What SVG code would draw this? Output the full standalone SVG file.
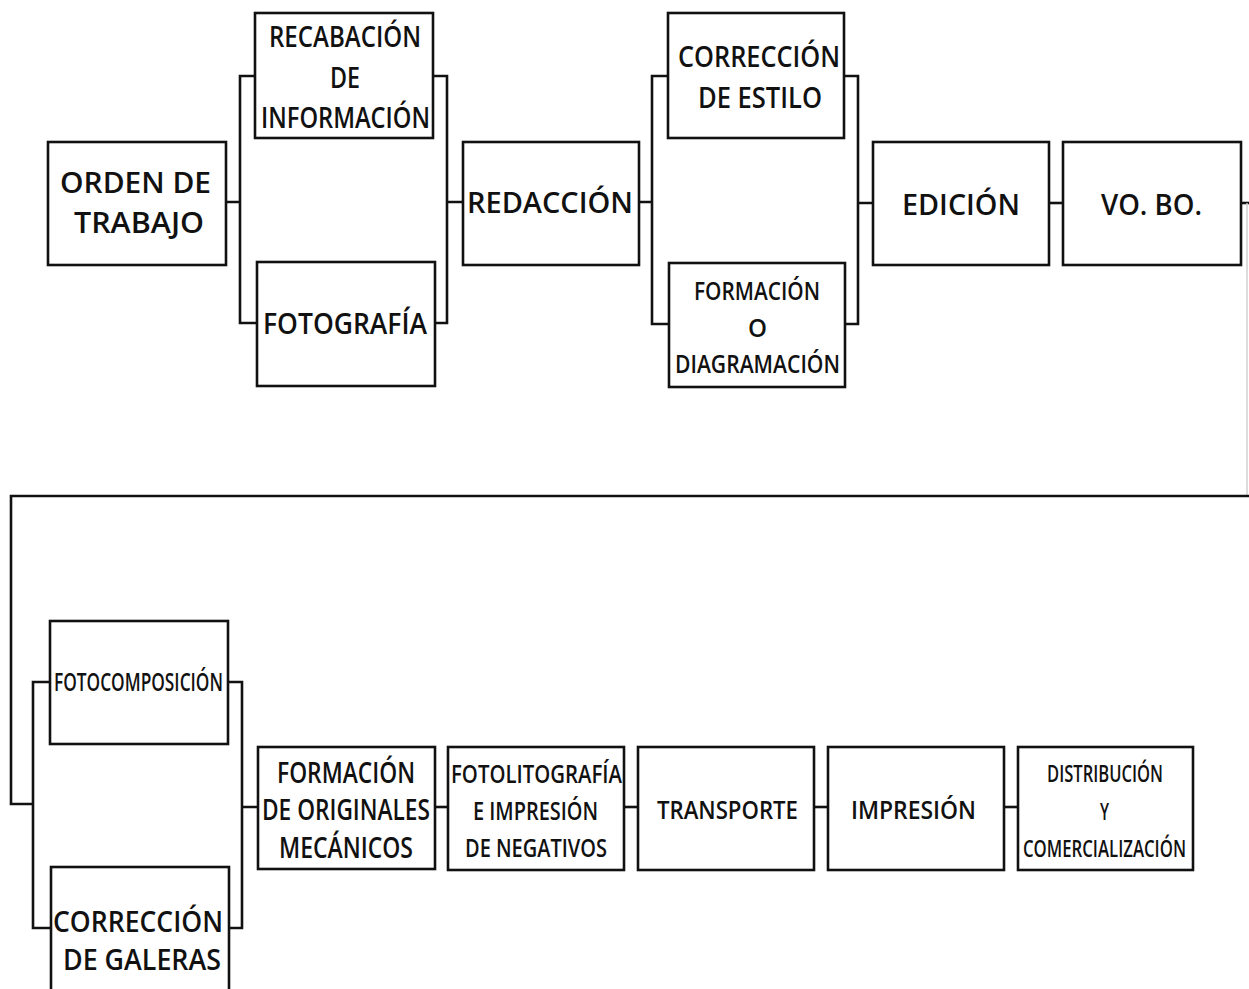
<svg xmlns="http://www.w3.org/2000/svg" width="1249" height="989" viewBox="0 0 1249 989">
<style>
  .box { fill: #ffffff; stroke: #111111; stroke-width: 2.6; }
  .conn { fill: none; stroke: #111111; stroke-width: 2.6; }
  .faint { fill: none; stroke: #d0d0d0; stroke-width: 1.5; }
  text { font-family: "Open Sans", "Noto Sans", "Liberation Sans", sans-serif; fill: #111111; font-size: 28px; font-weight: 600; }
  .s { font-size: 26px; }
  .xs { font-size: 24px; }
</style>
<rect width="1249" height="989" fill="#ffffff"/>
<g id="connectors">
  <path class="conn" d="M226 202 H240 M255 76 H240 V323 H257"/>
  <path class="conn" d="M433 76 H447 V323 H435 M447 202 H463"/>
  <path class="conn" d="M639 202 H652 M668 76 H652 V324 H669"/>
  <path class="conn" d="M844 76 H858 V324 H845 M858 203 H873"/>
  <path class="conn" d="M1049 203 H1063"/>
  <path class="conn" d="M1241 203 H1249"/>
  <path class="faint" d="M1247 203 V496"/>
  <path class="conn" d="M1249 496 H11 V804 H33"/>
  <path class="conn" d="M50 682 H33 V928 H51"/>
  <path class="conn" d="M228 682 H242 V928 H229 M242 807 H258"/>
  <path class="conn" d="M435 807 H448"/>
  <path class="conn" d="M624 807 H638"/>
  <path class="conn" d="M814 807 H828"/>
  <path class="conn" d="M1004 807 H1018"/>
</g>
<g id="orden">
  <rect class="box" x="48" y="142" width="178" height="123"/>
  <text x="60" y="193" textLength="151" lengthAdjust="spacingAndGlyphs">ORDEN DE</text>
  <text x="74" y="233" textLength="130" lengthAdjust="spacingAndGlyphs">TRABAJO</text>
</g>
<g id="recabacion">
  <rect class="box" x="255" y="13" width="178" height="125"/>
  <text x="269" y="47" textLength="152" lengthAdjust="spacingAndGlyphs">RECABACIÓN</text>
  <text x="330" y="88" textLength="30" lengthAdjust="spacingAndGlyphs">DE</text>
  <text x="261" y="128" textLength="169" lengthAdjust="spacingAndGlyphs">INFORMACIÓN</text>
</g>
<g id="fotografia">
  <rect class="box" x="257" y="262" width="178" height="124"/>
  <text x="263" y="334" textLength="164" lengthAdjust="spacingAndGlyphs">FOTOGRAFÍA</text>
</g>
<g id="redaccion">
  <rect class="box" x="463" y="142" width="176" height="123"/>
  <text x="467" y="213" textLength="166" lengthAdjust="spacingAndGlyphs">REDACCIÓN</text>
</g>
<g id="correccion-estilo">
  <rect class="box" x="668" y="13" width="176" height="125"/>
  <text x="678" y="67" textLength="162" lengthAdjust="spacingAndGlyphs">CORRECCIÓN</text>
  <text x="698" y="108" textLength="124" lengthAdjust="spacingAndGlyphs">DE ESTILO</text>
</g>
<g id="formacion-diagramacion">
  <rect class="box" x="669" y="263" width="176" height="124"/>
  <text class="s" x="694" y="300" textLength="126" lengthAdjust="spacingAndGlyphs">FORMACIÓN</text>
  <text class="s" x="748" y="337" textLength="19" lengthAdjust="spacingAndGlyphs">O</text>
  <text class="s" x="675" y="373" textLength="165" lengthAdjust="spacingAndGlyphs">DIAGRAMACIÓN</text>
</g>
<g id="edicion">
  <rect class="box" x="873" y="142" width="176" height="123"/>
  <text x="902" y="215" textLength="118" lengthAdjust="spacingAndGlyphs">EDICIÓN</text>
</g>
<g id="vobo">
  <rect class="box" x="1063" y="142" width="178" height="123"/>
  <text x="1101" y="215" textLength="101" lengthAdjust="spacingAndGlyphs">VO. BO.</text>
</g>
<g id="fotocomposicion">
  <rect class="box" x="50" y="621" width="178" height="123"/>
  <text class="s" x="54" y="691" textLength="169" lengthAdjust="spacingAndGlyphs">FOTOCOMPOSICIÓN</text>
</g>
<g id="correccion-galeras">
  <rect class="box" x="51" y="867" width="178" height="130"/>
  <text x="53" y="932" textLength="170" lengthAdjust="spacingAndGlyphs">CORRECCIÓN</text>
  <text x="63" y="970" textLength="158" lengthAdjust="spacingAndGlyphs">DE GALERAS</text>
</g>
<g id="formacion-originales">
  <rect class="box" x="258" y="747" width="177" height="122"/>
  <text x="277" y="783" textLength="138" lengthAdjust="spacingAndGlyphs">FORMACIÓN</text>
  <text x="262" y="820" textLength="168" lengthAdjust="spacingAndGlyphs">DE ORIGINALES</text>
  <text x="279" y="858" textLength="134" lengthAdjust="spacingAndGlyphs">MECÁNICOS</text>
</g>
<g id="fotolitografia">
  <rect class="box" x="448" y="747" width="176" height="123"/>
  <text class="s" x="451" y="783" textLength="171" lengthAdjust="spacingAndGlyphs">FOTOLITOGRAFÍA</text>
  <text class="s" x="473" y="820" textLength="125" lengthAdjust="spacingAndGlyphs">E IMPRESIÓN</text>
  <text class="s" x="465" y="857" textLength="142" lengthAdjust="spacingAndGlyphs">DE NEGATIVOS</text>
</g>
<g id="transporte">
  <rect class="box" x="638" y="747" width="176" height="123"/>
  <text class="s" x="657" y="819" textLength="141" lengthAdjust="spacingAndGlyphs">TRANSPORTE</text>
</g>
<g id="impresion">
  <rect class="box" x="828" y="747" width="176" height="123"/>
  <text class="s" x="851" y="819" textLength="125" lengthAdjust="spacingAndGlyphs">IMPRESIÓN</text>
</g>
<g id="distribucion">
  <rect class="box" x="1018" y="747" width="175" height="123"/>
  <text class="xs" x="1047" y="782" textLength="116" lengthAdjust="spacingAndGlyphs">DISTRIBUCIÓN</text>
  <text class="xs" x="1100" y="820" textLength="9" lengthAdjust="spacingAndGlyphs">Y</text>
  <text class="xs" x="1023" y="857" textLength="163" lengthAdjust="spacingAndGlyphs">COMERCIALIZACIÓN</text>
</g>
</svg>
